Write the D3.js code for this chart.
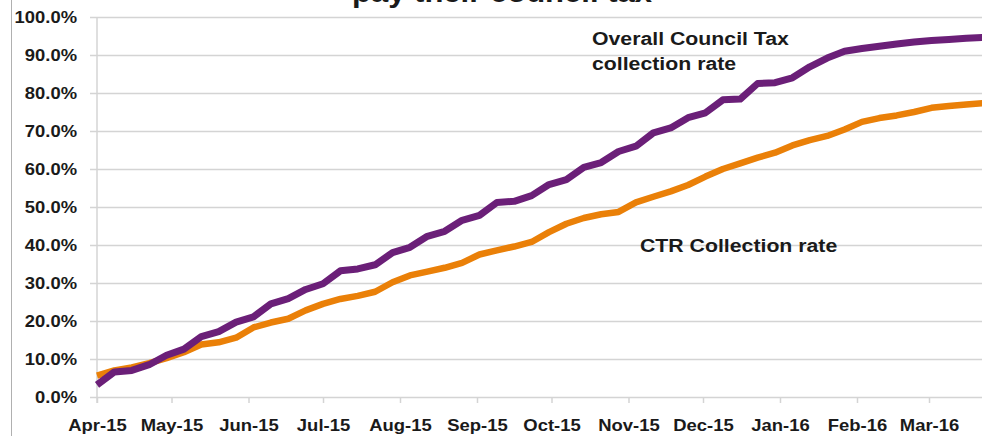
<!DOCTYPE html>
<html>
<head>
<meta charset="utf-8">
<script src="https://cdn.jsdelivr.net/npm/d3@7/dist/d3.min.js"></script>
<style>
  body { margin: 0; background: #fff; overflow: hidden; }
  text { font-family: "Liberation Sans", Arial, sans-serif; font-weight: bold; fill: #1a1a1a; }
</style>
</head>
<body>
<div id="chart"></div>
<script>
// weekly collection figures, Apr-15 to Mar-16 (percent)
var weekDates = [
  "2015-04-01","2015-04-08","2015-04-15","2015-04-22","2015-04-29",
  "2015-05-06","2015-05-13","2015-05-20","2015-05-27",
  "2015-06-03","2015-06-10","2015-06-17","2015-06-24",
  "2015-07-01","2015-07-08","2015-07-15","2015-07-22","2015-07-29",
  "2015-08-05","2015-08-12","2015-08-19","2015-08-26",
  "2015-09-02","2015-09-09","2015-09-16","2015-09-23","2015-09-30",
  "2015-10-07","2015-10-14","2015-10-21","2015-10-28",
  "2015-11-04","2015-11-11","2015-11-18","2015-11-25",
  "2015-12-02","2015-12-09","2015-12-16","2015-12-23","2015-12-30",
  "2016-01-06","2016-01-13","2016-01-20","2016-01-27",
  "2016-02-03","2016-02-10","2016-02-17","2016-02-24",
  "2016-03-02","2016-03-09","2016-03-16","2016-03-23"
];

var overallRate = [
  3.2, 6.6, 7.0, 8.5, 11.0, 12.6, 15.9, 17.2, 19.7, 21.1, 24.5, 25.9, 28.3,
  29.8, 33.2, 33.7, 34.8, 38.0, 39.4, 42.3, 43.6, 46.5, 47.8, 51.2, 51.5, 53.0,
  55.9, 57.2, 60.4, 61.7, 64.6, 66.0, 69.5, 70.8, 73.5, 74.8, 78.2, 78.4, 82.5,
  82.7, 84.0, 86.9, 89.2, 91.0, 91.7, 92.3, 92.9, 93.4, 93.8, 94.1, 94.4, 94.6
];

var ctrRate = [
  5.6, 7.0, 7.8, 8.9, 10.2, 11.8, 13.8, 14.4, 15.6, 18.3, 19.6, 20.6, 22.8,
  24.5, 25.8, 26.6, 27.7, 30.2, 32.0, 33.0, 34.0, 35.3, 37.5, 38.6, 39.6, 40.8,
  43.4, 45.6, 47.1, 48.1, 48.7, 51.2, 52.7, 54.1, 55.8, 58.0, 60.0, 61.5, 63.0,
  64.3, 66.2, 67.6, 68.7, 70.4, 72.4, 73.4, 74.1, 75.0, 76.1, 76.6, 77.0, 77.3
];

var monthLabels = ["Apr-15","May-15","Jun-15","Jul-15","Aug-15","Sep-15",
                   "Oct-15","Nov-15","Dec-15","Jan-16","Feb-16","Mar-16"];
var yTicks = [0, 10, 20, 30, 40, 50, 60, 70, 80, 90, 100];

var titleText = "pay their council tax";
var overallLabel = ["Overall Council Tax", "collection rate"];
var ctrLabel = "CTR Collection rate";

var svgWidth = 982;
var svgHeight = 436;
var plotLeft = 97, plotTop = 17, plotBottom = 397;
var stretch = 1.15; // the original picture is a bit wide

var parseDate = d3.timeParse("%Y-%m-%d");
var dates = weekDates.map(parseDate);

var svg = d3.select("#chart").append("svg")
  .attr("width", svgWidth)
  .attr("height", svgHeight);

var x = d3.scaleTime()
  .domain([new Date(2015, 3, 1), new Date(2016, 3, 1)])
  .range([plotLeft, 1006]);

var y = d3.scaleLinear()
  .domain([0, 100])
  .range([plotBottom, plotTop]);

// outer frame line on the left
svg.append("line")
  .attr("x1", 11.5).attr("x2", 11.5)
  .attr("y1", 0).attr("y2", svgHeight)
  .attr("stroke", "#b0b0b0").attr("stroke-width", 1);

// gridlines + y axis
var yAxis = d3.axisLeft(y)
  .tickValues(yTicks)
  .tickSize(-(svgWidth - plotLeft))
  .tickSizeOuter(0)
  .tickFormat(d => d.toFixed(1) + "%");

var gy = svg.append("g")
  .attr("transform", `translate(${plotLeft},0)`)
  .call(yAxis);
gy.select(".domain").remove();
gy.selectAll(".tick line")
  .attr("x1", -7)
  .attr("stroke", "#d4d4d4")
  .attr("stroke-width", 1.5);
gy.selectAll(".tick text")
  .attr("x", 0)
  .attr("dy", "0.36em")
  .attr("transform", `translate(-20,0) scale(${stretch},1)`)
  .style("font-size", "16px")
  .attr("fill", "#1a1a1a");

svg.append("line")
  .attr("x1", plotLeft).attr("x2", plotLeft)
  .attr("y1", plotTop).attr("y2", plotBottom + 6)
  .attr("stroke", "#d4d4d4").attr("stroke-width", 1.5);

// x axis
var monthStarts = d3.timeMonth.range(new Date(2015, 3, 1), new Date(2016, 3, 1));
var xAxis = d3.axisBottom(x)
  .tickValues(monthStarts)
  .tickSize(6)
  .tickSizeOuter(0)
  .tickFormat((d, i) => monthLabels[i]);

var gx = svg.append("g")
  .attr("transform", `translate(0,${plotBottom})`)
  .call(xAxis);
gx.select(".domain").remove();
gx.selectAll(".tick line")
  .attr("stroke", "#d4d4d4")
  .attr("stroke-width", 1.5);
gx.selectAll(".tick text")
  .attr("y", 0)
  .attr("dy", 0)
  .attr("transform", `translate(0,34) scale(1.12,1)`)
  .style("font-size", "16.5px")
  .attr("fill", "#1a1a1a");

// lines
var line = d3.line()
  .x((d, i) => x(dates[i]))
  .y(d => y(d));

svg.append("path")
  .datum(ctrRate)
  .attr("d", line)
  .attr("fill", "none")
  .attr("stroke", "#ea8008")
  .attr("stroke-width", 6.5)
  .attr("stroke-linejoin", "round");

svg.append("path")
  .datum(overallRate)
  .attr("d", line)
  .attr("fill", "none")
  .attr("stroke", "#6b1f78")
  .attr("stroke-width", 7)
  .attr("stroke-linejoin", "round");

// title (cut off at top in the original)
svg.append("text")
  .attr("transform", `translate(502,2) scale(${stretch},1)`)
  .attr("text-anchor", "middle")
  .style("font-size", "27px")
  .text(titleText);

// series labels
svg.append("g")
  .attr("transform", `translate(592,0) scale(${stretch},1)`)
  .selectAll("text")
  .data(overallLabel)
  .enter()
  .append("text")
  .attr("y", (d, i) => 45 + i * 25)
  .style("font-size", "18.5px")
  .text(d => d);

svg.append("text")
  .attr("transform", `translate(640,251.5) scale(${stretch},1)`)
  .style("font-size", "18.5px")
  .text(ctrLabel);
</script>
</body>
</html>
